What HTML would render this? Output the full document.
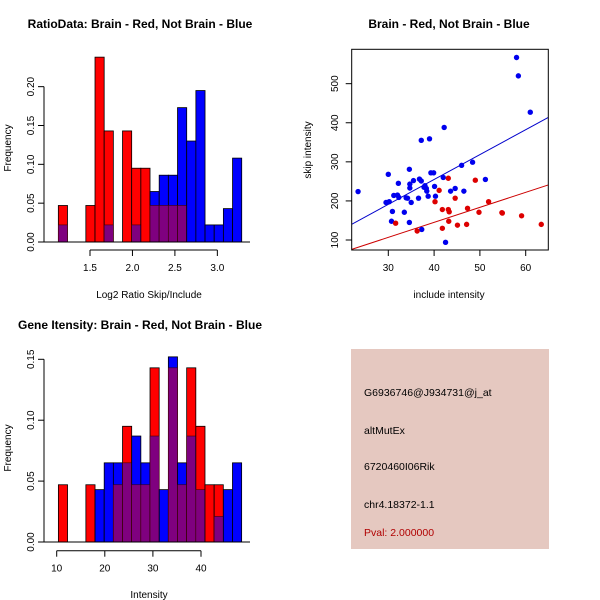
<!DOCTYPE html>
<html><head><meta charset="utf-8"><style>
html,body{margin:0;padding:0;background:#fff;}
svg{display:block;font-family:"Liberation Sans",sans-serif;}
</style></head><body>
<svg id="c" width="600" height="600" viewBox="0 0 600 600" xmlns="http://www.w3.org/2000/svg">
<rect x="0" y="0" width="600" height="600" fill="#fff"/>
<text x="140" y="28" text-anchor="middle" font-size="12" font-weight="bold">RatioData: Brain - Red, Not Brain - Blue</text>
<text x="449" y="28" text-anchor="middle" font-size="12" font-weight="bold">Brain - Red, Not Brain - Blue</text>
<text x="140" y="329" text-anchor="middle" font-size="12" font-weight="bold">Gene Itensity: Brain - Red, Not Brain - Blue</text>
<text x="149" y="298" text-anchor="middle" font-size="10">Log2 Ratio Skip/Include</text>
<text x="149" y="598" text-anchor="middle" font-size="10">Intensity</text>
<text x="449" y="298" text-anchor="middle" font-size="10">include intensity</text>
<text transform="translate(11,148) rotate(-90)" text-anchor="middle" font-size="10">Frequency</text>
<text transform="translate(11,448) rotate(-90)" text-anchor="middle" font-size="10">Frequency</text>
<text transform="translate(311,150) rotate(-90)" text-anchor="middle" font-size="10">skip intensity</text>
<g>
<rect x="351" y="349" width="198" height="200" fill="#e5c8c0"/>
<text x="364" y="396" font-size="10.5">G6936746@J934731@j_at</text>
<text x="364" y="434" font-size="10.5">altMutEx</text>
<text x="364" y="470" font-size="10.5">6720460I06Rik</text>
<text x="364" y="508" font-size="10.5">chr4.18372-1.1</text>
<text x="364" y="536" font-size="10.5" fill="#b00000">Pval: 2.000000</text>
</g>
</svg>
<script>
// Ratio histogram data
const ratioStart = 1.127, ratioWidth = 0.108;
const ratioRed = [.047,0,0,.047,.238,.143,0,.143,.095,.095,.047,.047,.047,.047,0,0,0,0,0,0];
const ratioBlue = [.022,0,0,0,0,.022,0,0,.022,0,.065,.086,.086,.173,.13,.195,.022,.022,.043,.108];
const ratioXTicks = [1.5,2.0,2.5,3.0];
const ratioYTicks = [0,0.05,0.10,0.15,0.20];
// Intensity histogram data
const intStart = 10.35, intWidth = 1.905;
const intRed = [.047,0,0,.047,0,0,.047,.095,.047,.047,.143,0,.143,.047,.143,.095,.047,.047,0,0];
const intBlue = [0,0,0,0,.043,.065,.065,.065,.087,.065,.087,.043,.152,.065,.087,.043,0,.021,.043,.065];
const intXTicks = [10,20,30,40];
const intYTicks = [0,0.05,0.10,0.15];
// Scatter data
const blueX = [23.4,30.0,29.5,30.2,30.9,30.7,31.2,32.2,32.0,32.3,33.5,33.9,34.2,34.6,34.7,34.7,35.0,34.6,35.5,36.6,36.8,37.2,37.2,37.3,37.8,38.0,38.3,38.4,38.7,39.0,39.3,39.9,40.1,40.3,42.0,42.2,42.5,43.6,44.6,46.0,46.5,48.4,51.2,58.0,58.4,61.0];
const blueY = [224,268,196,198,173,148,214,245,215,209,171,208,207,281,243,233,196,145,252,207,256,251,355,127,235,239,232,225,212,359,272,272,237,212,260,388,94,225,232,291,225,299,255,567,520,427];
const redX = [31.6,36.3,40.2,41.1,41.8,41.8,43.1,43.1,43.2,43.3,44.6,45.1,47.1,47.3,49.0,49.8,51.9,54.8,54.9,59.1,63.4];
const redY = [143,123,198,227,178,130,258,178,148,172,207,138,140,181,253,171,198,170,169,162,140];
const fitIntercept = [0, -8.5]; // blue, red
const fitSlope = [6.37, 3.84];
const scatXTicks = [30,40,50,60];
const scatYTicks = [100,200,300,400,500];

const NS = "http://www.w3.org/2000/svg";
const svg = document.getElementById('c');
function mk(tag, attrs, parent){
  const e = document.createElementNS(NS, tag);
  for (const k in attrs) e.setAttribute(k, attrs[k]);
  (parent||svg).appendChild(e);
  return e;
}
function yAxis(g, ticks, sy, x, fmt){
  mk('line',{x1:x,x2:x,y1:sy(ticks[0]),y2:sy(ticks[ticks.length-1]),stroke:'#000'},g);
  ticks.forEach(t=>{
    mk('line',{x1:x-6,x2:x,y1:sy(t),y2:sy(t),stroke:'#000'},g);
    const tx = mk('text',{transform:`translate(${x-10},${sy(t)}) rotate(-90)`,'text-anchor':'middle','font-size':'10'},g);
    tx.textContent = fmt(t);
  });
}
function xAxis(g, ticks, sx, y){
  mk('line',{x1:sx(ticks[0]),x2:sx(ticks[ticks.length-1]),y1:y,y2:y,stroke:'#000'},g);
  ticks.forEach(t=>{
    mk('line',{x1:sx(t),x2:sx(t),y1:y,y2:y+6,stroke:'#000'},g);
    const tx = mk('text',{x:sx(t),y:y+21,'text-anchor':'middle','font-size':'10'},g);
    tx.textContent = String(t % 1 === 0 && t < 5 ? t.toFixed(1) : t);
  });
}
function hist(name, start, width, red, blue, sx, sy, base){
  const g = mk('g',{});
  
  
  red.forEach((r,i)=>{
    const b = blue[i];
    const x0 = sx(start + i*width), x1 = sx(start + (i+1)*width);
    const hi = Math.max(r,b), lo = Math.min(r,b);
    if (hi > 0) {
      const rc = mk('rect',{x:x0,y:sy(hi),width:x1-x0,height:base-sy(hi),fill:r>=b?'#ff0000':'#0000ff',stroke:'#000','stroke-width':0.8},g);
      
      
    }
    if (lo > 0) {
      const pc = mk('rect',{x:x0,y:sy(lo),width:x1-x0,height:base-sy(lo),fill:'#7f007f',stroke:'#400','stroke-width':0.6},g);
      
      
    }
  });
  return g;
}
// Ratio hist
(function(){
  const sx = v => 90 + (v-1.5)*84.9;
  const sy = v => 242 - v*776.7;
  hist('ratio-histogram', ratioStart, ratioWidth, ratioRed, ratioBlue, sx, sy, 242);
  const g = mk('g',{});
  
  
  mk('line',{x1:44,x2:250,y1:242,y2:242,stroke:'#000'},g);
  yAxis(g, ratioYTicks, sy, 44, t=>t.toFixed(2));
  xAxis(g, ratioXTicks, sx, 250);
})();
// Intensity hist
(function(){
  const sx = v => 56.7 + (v-10)*4.81;
  const sy = v => 542 - v*1218;
  hist('intensity-histogram', intStart, intWidth, intRed, intBlue, sx, sy, 542);
  const g = mk('g',{});
  
  
  mk('line',{x1:44,x2:250,y1:542,y2:542,stroke:'#000'},g);
  yAxis(g, intYTicks, sy, 44, t=>t.toFixed(2));
  xAxis(g, intXTicks, sx, 550.7);
})();
// Scatter
(function(){
  const sx = v => 388.3 + (v-30)*4.58;
  const sy = v => 240 - (v-100)*0.3908;
  const g = mk('g',{});
  
  
  const clip = mk('clipPath',{id:'sc'},g);
  mk('rect',{x:351.7,y:49.3,width:196.6,height:200.7},clip);
  const cols = ['#0000ee','#dd0000'];
  fitSlope.forEach((s,i)=>{
    const xa = 22, xb = 66;
    const ln = mk('line',{x1:sx(xa),y1:sy(fitIntercept[i]+s*xa),x2:sx(xb),y2:sy(fitIntercept[i]+s*xb),stroke:i?'#cc0000':'#0000cc','stroke-width':1,'clip-path':'url(#sc)'},g);
    
    
  });
  blueX.forEach((x,i)=>{
    const c = mk('circle',{cx:sx(x),cy:sy(blueY[i]),r:2.7,fill:cols[0]},g);
    
    
  });
  redX.forEach((x,i)=>{
    const c = mk('circle',{cx:sx(x),cy:sy(redY[i]),r:2.7,fill:cols[1]},g);
    
    
  });
  mk('rect',{x:351.7,y:49.3,width:196.6,height:200.7,fill:'none',stroke:'#000'},g);
  scatXTicks.forEach(t=>{
    mk('line',{x1:sx(t),x2:sx(t),y1:250,y2:256,stroke:'#000'},g);
    const tx = mk('text',{x:sx(t),y:271,'text-anchor':'middle','font-size':'10'},g);
    tx.textContent = t;
  });
  scatYTicks.forEach(t=>{
    mk('line',{x1:345.7,x2:351.7,y1:sy(t),y2:sy(t),stroke:'#000'},g);
    const tx = mk('text',{transform:`translate(338,${sy(t)}) rotate(-90)`,'text-anchor':'middle','font-size':'10'},g);
    tx.textContent = t;
  });
})();
</script>
</body></html>
